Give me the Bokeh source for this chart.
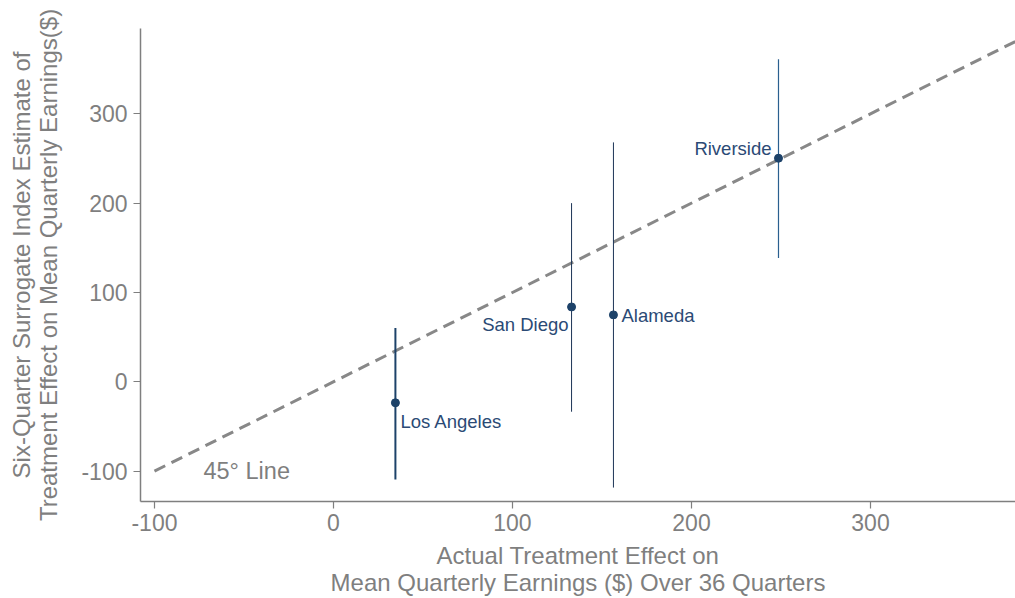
from bokeh.plotting import figure
from bokeh.models import ColumnDataSource, Range1d, FixedTicker, Label, PrintfTickFormatter
from bokeh.embed import file_html
from bokeh.resources import INLINE

sites = ["Los Angeles", "San Diego", "Alameda", "Riverside"]
actual = [34.6, 133.0, 156.4, 248.6]
estimate = [-23.5, 83.8, 74.9, 250.3]
ci_low = [-109.5, -33.5, -118.4, 138.5]
ci_high = [60.3, 200.0, 268.0, 361.0]
bar_widths = [2, 1, 1, 1.2]
bar_colors = ["#1d4269", "#1d3557", "#1d3557", "#2a5f8f"]
label_align = ["left", "right", "left", "right"]
label_dx = [5, -3, 8, -7]
label_dy = [-19, -18, -1, 10]
ticks = [-100, 0, 100, 200, 300]
line_45 = [-100, 381]

FONT = "Liberation Sans"
GRAY = "#7f7f7f"
NAVY = "#1d4269"

p = figure(width=1015, height=598, output_backend="svg", toolbar_location=None,
           x_range=Range1d(-107.8, 381.0), y_range=Range1d(-134, 395.5),
           min_border_left=140, min_border_right=0, min_border_top=28,
           min_border_bottom=96)
p.outline_line_color = None
p.xgrid.visible = False
p.ygrid.visible = False
p.background_fill_color = "white"

# 45 degree line
p.line(line_45, line_45, line_color="#888888", line_width=3, line_dash="12 7")

src = ColumnDataSource(dict(x=actual, y=estimate, lo=ci_low, hi=ci_high,
                            w=bar_widths, c=bar_colors, name=sites))
p.segment(x0="x", y0="lo", x1="x", y1="hi", line_width="w", line_color="c", source=src)
p.scatter(x="x", y="y", size=8, fill_color=NAVY, line_color=NAVY, source=src)

for s, x, y, a, dx, dy in zip(sites, actual, estimate, label_align, label_dx, label_dy):
    p.add_layout(Label(x=x, y=y, text=s, x_offset=dx, y_offset=dy, text_align=a,
                       text_baseline="middle", text_font=FONT, text_font_size="18.5px",
                       text_color="#2b4a75"))

p.add_layout(Label(x=-100, y=-100, text="45° Line", x_offset=49, y_offset=0,
                   text_align="left", text_baseline="middle", text_font=FONT,
                   text_font_size="23.5px", text_color=GRAY))

for ax in (p.xaxis[0], p.yaxis[0]):
    ax.ticker = FixedTicker(ticks=ticks)
    ax.formatter = PrintfTickFormatter(format="%d")
    ax.axis_line_color = GRAY
    ax.axis_line_width = 1.5
    ax.major_tick_line_color = GRAY
    ax.major_tick_line_width = 1.2
    ax.major_tick_out = 7
    ax.major_tick_in = 0
    ax.minor_tick_line_color = None
    ax.major_label_text_font = FONT
    ax.major_label_text_font_size = "23px"
    ax.major_label_text_color = GRAY
    ax.axis_label_text_font = FONT
    ax.axis_label_text_font_size = "24px"
    ax.axis_label_text_color = GRAY
    ax.axis_label_text_font_style = "normal"
    ax.axis_label_text_line_height = 1.0

p.xaxis.axis_label = "Actual Treatment Effect on\nMean Quarterly Earnings ($) Over 36 Quarters"
p.yaxis.axis_label = "Six-Quarter Surrogate Index Estimate of\nTreatment Effect on Mean Quarterly Earnings($)"
p.xaxis.major_label_standoff = 5
p.yaxis.major_label_standoff = 6
p.xaxis.axis_label_standoff = 8
p.yaxis.axis_label_standoff = 16

open("out.html", "w").write(file_html(p, INLINE))
